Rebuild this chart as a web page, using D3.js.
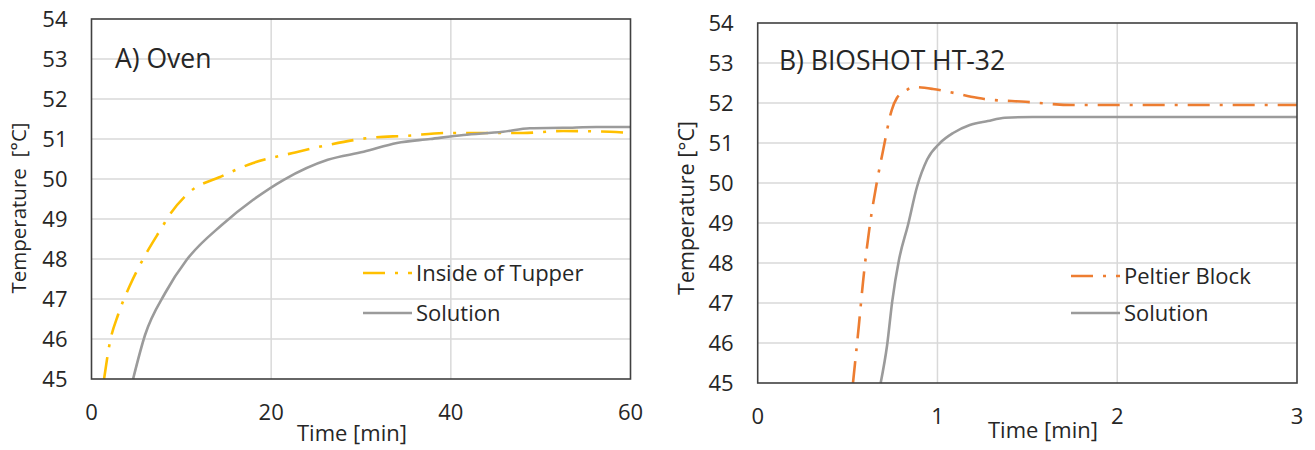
<!DOCTYPE html>
<html lang="en">
<head>
    <meta charset="UTF-8"/>
    <title>Temperature curves</title>
    <script src="https://d3js.org/d3.v7.min.js"></script>
    <style>
        body, html {
            margin: 0;
            padding: 0;
            background: #fff;
            font-family: "Open Sans", sans-serif;
        }
        svg text { fill: #262626; }
    </style>
</head>
<body>
<svg id="chart" width="1315" height="450"></svg>
<script>
    // Panel A: oven (time in min, temperature in °C)
    const ovenTupperTime = [1.4, 2.06, 2.95, 4.3, 5.75, 8.0, 8.4, 10.96, 14.3, 18.0, 22.4, 26.3, 31.0, 35.1, 39.6, 45.1, 48.0, 52.5, 57.7, 60];
    const ovenTupperTemp = [45, 45.93, 46.6, 47.35, 48.0, 48.85, 49.0, 49.68, 50.05, 50.4, 50.65, 50.85, 51.03, 51.08, 51.15, 51.15, 51.15, 51.2, 51.18, 51.15];
    const ovenSolutionTime = [4.63, 5.96, 8.2, 10.6, 14.5, 18.0, 21.4, 26.3, 30.3, 34.0, 37.7, 41.4, 45.8, 48.8, 52.5, 56.2, 60];
    const ovenSolutionTemp = [45, 46.1, 47.15, 47.98, 48.85, 49.48, 49.98, 50.48, 50.68, 50.9, 51.0, 51.1, 51.18, 51.27, 51.28, 51.3, 51.3];

    // Panel B: BIOSHOT HT-32
    const peltierTime = [0.53, 0.563, 0.586, 0.624, 0.662, 0.696, 0.746, 0.775, 0.83, 0.864, 0.975, 1.07, 1.22, 1.26, 1.49, 1.75, 3.0];
    const peltierTemp = [45, 46.45, 47.53, 48.95, 50.0, 50.78, 51.83, 52.13, 52.33, 52.4, 52.35, 52.27, 52.13, 52.1, 52.03, 51.95, 51.95];
    const bioSolutionTime = [0.684, 0.72, 0.748, 0.786, 0.836, 0.886, 0.942, 1.014, 1.087, 1.18, 1.28, 1.375, 1.53, 3.0];
    const bioSolutionTemp = [45, 45.95, 47.03, 48.08, 48.95, 49.9, 50.58, 51.0, 51.25, 51.45, 51.55, 51.63, 51.65, 51.65];

    const tempTicks = [45, 46, 47, 48, 49, 50, 51, 52, 53, 54];
    const ovenTimeTicks = [0, 20, 40, 60];
    const bioTimeTicks = [0, 1, 2, 3];

    const svg = d3.select("#chart");
    const zip = (xs, ys) => xs.map((x, i) => [x, ys[i]]);

    function drawPanel(p) {
        const g = svg.append("g");
        const x = d3.scaleLinear().domain(p.xDomain).range([p.left, p.right]);
        const y = d3.scaleLinear().domain([45, 54]).range([p.bottom, p.top]);

        // gridlines
        g.selectAll(".hgrid").data(tempTicks.slice(1, -1)).join("line")
            .attr("x1", p.left).attr("x2", p.right)
            .attr("y1", d => y(d)).attr("y2", d => y(d))
            .attr("stroke", "#d9d9d9").attr("stroke-width", 1.5);
        g.selectAll(".vgrid").data(p.xTicks.slice(1, -1)).join("line")
            .attr("y1", p.top).attr("y2", p.bottom)
            .attr("x1", d => x(d)).attr("x2", d => x(d))
            .attr("stroke", "#d9d9d9").attr("stroke-width", 1.5);

        // series
        const line = d3.line().x(d => x(d[0])).y(d => y(d[1])).curve(d3.curveMonotoneX);
        p.series.forEach(s => {
            g.append("path")
                .datum(zip(s.t, s.v))
                .attr("fill", "none")
                .attr("stroke", s.color)
                .attr("stroke-width", s.width)
                .attr("stroke-dasharray", s.dash || null)
                .attr("d", line);
        });

        // frame
        g.append("rect")
            .attr("x", p.left).attr("y", p.top)
            .attr("width", p.right - p.left).attr("height", p.bottom - p.top)
            .attr("fill", "none").attr("stroke", "#404040").attr("stroke-width", 1.6);

        // tick labels
        g.selectAll(".ytl").data(tempTicks).join("text")
            .attr("x", p.left - 24).attr("y", d => y(d) + 8)
            .attr("text-anchor", "end").attr("font-size", 22)
            .text(d => d);
        g.selectAll(".xtl").data(p.xTicks).join("text")
            .attr("x", d => x(d)).attr("y", p.xTickY)
            .attr("text-anchor", "middle").attr("font-size", 22)
            .text(d => d);

        // axis titles
        g.append("text")
            .attr("transform", `translate(${p.yTitleX},${p.yTitleY}) rotate(-90)`)
            .attr("text-anchor", "middle").attr("font-size", p.yTitleSize)
            .attr("xml:space", "preserve")
            .text(p.yTitle);
        g.append("text")
            .attr("x", p.xTitleX).attr("y", p.xTitleY)
            .attr("font-size", 22)
            .text("Time [min]");

        // panel title
        g.append("text")
            .attr("x", p.titleX).attr("y", p.titleY)
            .attr("font-size", 26.5)
            .text(p.title);

        // legend
        p.series.forEach((s, i) => {
            const ly = p.legendY + i * p.legendStep;
            g.append("line")
                .attr("x1", p.legendX).attr("x2", p.legendX + 49)
                .attr("y1", ly).attr("y2", ly)
                .attr("stroke", s.color).attr("stroke-width", s.width)
                .attr("stroke-dasharray", s.dash || null);
            g.append("text")
                .attr("x", p.legendX + 53).attr("y", ly + 8)
                .attr("font-size", 22)
                .text(s.name);
        });
    }

    drawPanel({
        left: 91.5, right: 630.5, top: 19, bottom: 379,
        xDomain: [0, 60], xTicks: ovenTimeTicks, xTickY: 420,
        yTitle: "Temperature  [°C]", yTitleX: 26, yTitleY: 208, yTitleSize: 20.5,
        xTitleX: 297, xTitleY: 441,
        title: "A) Oven", titleX: 115, titleY: 68,
        legendX: 363, legendY: 273, legendStep: 40,
        series: [
            {name: "Inside of Tupper", t: ovenTupperTime, v: ovenTupperTemp, color: "#ffc000", width: 2.6, dash: "22,10,3,10"},
            {name: "Solution", t: ovenSolutionTime, v: ovenSolutionTemp, color: "#9b9b9b", width: 2.6}
        ]
    });

    drawPanel({
        left: 757.7, right: 1297, top: 23, bottom: 383,
        xDomain: [0, 3], xTicks: bioTimeTicks, xTickY: 424,
        yTitle: "Temperature [°C]", yTitleX: 694, yTitleY: 208, yTitleSize: 21.5,
        xTitleX: 988, xTitleY: 438,
        title: "B) BIOSHOT HT-32", titleX: 779, titleY: 70,
        legendX: 1071, legendY: 276, legendStep: 37,
        series: [
            {name: "Peltier Block", t: peltierTime, v: peltierTemp, color: "#ed7d31", width: 2.6, dash: "22,10,3,10"},
            {name: "Solution", t: bioSolutionTime, v: bioSolutionTemp, color: "#9b9b9b", width: 2.6}
        ]
    });
</script>
</body>
</html>
